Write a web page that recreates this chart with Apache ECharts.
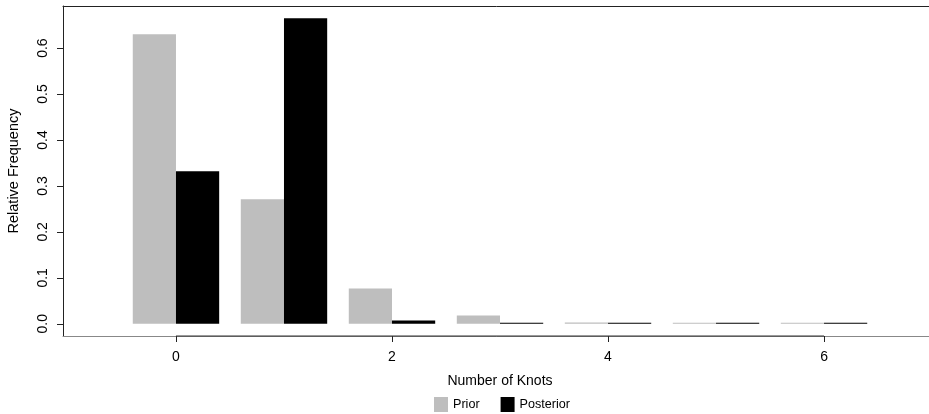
<!DOCTYPE html>
<html>
<head>
<meta charset="utf-8">
<script src="https://cdn.jsdelivr.net/npm/echarts@6/dist/echarts.min.js"></script>
<style>
html,body{margin:0;padding:0;background:#fff;}
#chart{width:929px;height:414px;}
</style>
</head>
<body>
<div id="chart"></div>
<script>
// Data
const knots = [0, 1, 2, 3, 4, 5, 6];
const prior = [0.630, 0.271, 0.077, 0.018, 0.003, 0.001, 0.001];
const posterior = [0.332, 0.665, 0.007, 0.001, 0.001, 0.001, 0.001];
const xTicks = [0, 2, 4, 6];
const yTicks = [0.0, 0.1, 0.2, 0.3, 0.4, 0.5, 0.6];

const FONT = '"Liberation Sans", Arial, Helvetica, sans-serif';
const GREY = '#bebebe';
const BAR_W = 0.4;
const Y_MIN = -0.0266, Y_MAX = 0.6916;
const X_MIN = -1.046, X_MAX = 7.046;

function barRenderer(side) {
  return function (params, api) {
    const k = api.value(0), v = api.value(1);
    const x0 = side < 0 ? k - BAR_W : k;
    const x1 = side < 0 ? k : k + BAR_W;
    const p0 = api.coord([x0, v]);
    const p1 = api.coord([x1, 0]);
    let h = p1[1] - p0[1];
    if (h < 1) h = 1;
    return {
      type: 'rect',
      shape: { x: p0[0], y: p1[1] - h, width: p1[0] - p0[0], height: h },
      style: { fill: api.visual('color') }
    };
  };
}

const chart = echarts.init(document.getElementById('chart'), null, { renderer: 'canvas' });
chart.setOption({
  animation: false,
  backgroundColor: '#fff',
  textStyle: { fontFamily: FONT },
  grid: {
    left: 63, top: 6, width: 874, height: 330,
    containLabel: false, outerBoundsMode: 'none', show: false
  },
  legend: {
    left: 434, top: 397, itemWidth: 14, itemHeight: 15, itemGap: 21,
    icon: 'rect', padding: 0,
    textStyle: { fontFamily: FONT, fontSize: 12.6, color: '#000' },
    data: ['Prior', 'Posterior']
  },
  xAxis: [{
    type: 'value', min: X_MIN, max: X_MAX, position: 'bottom',
    name: 'Number of Knots', nameLocation: 'middle', nameGap: 38,
    nameTextStyle: { fontFamily: FONT, fontSize: 14, color: '#000' },
    axisLine: { show: true, onZero: false, lineStyle: { color: '#888', width: 1 } },
    axisTick: { show: true, length: 6, lineStyle: { color: '#222' }, customValues: xTicks },
    axisLabel: { show: true, margin: 14, fontFamily: FONT, fontSize: 14, color: '#000',
      customValues: xTicks, formatter: v => String(v) },
    splitLine: { show: false }
  }, {
    type: 'value', min: X_MIN, max: X_MAX, position: 'top',
    axisLine: { show: true, onZero: false, lineStyle: { color: '#222', width: 1 } },
    axisTick: { show: false }, axisLabel: { show: false }, splitLine: { show: false }
  }],
  yAxis: {
    type: 'value', min: Y_MIN, max: Y_MAX,
    name: 'Relative Frequency', nameLocation: 'middle', nameGap: 42, nameRotate: 90,
    nameTextStyle: { fontFamily: FONT, fontSize: 14.5, color: '#000' },
    axisLine: { show: true, onZero: false, lineStyle: { color: '#222', width: 1 } },
    axisTick: { show: true, length: 6, lineStyle: { color: '#222' }, customValues: yTicks },
    axisLabel: { show: true, rotate: 90, margin: 13, fontFamily: FONT, fontSize: 14, color: '#000',
      customValues: yTicks, formatter: v => v.toFixed(1) },
    splitLine: { show: false }
  },
  series: [
    {
      name: 'Prior', type: 'custom', color: GREY,
      itemStyle: { color: GREY },
      renderItem: barRenderer(-1),
      encode: { x: 0, y: 1 },
      data: knots.map((k, i) => [k, prior[i]])
    },
    {
      name: 'Posterior', type: 'custom', color: '#000',
      itemStyle: { color: '#000' },
      renderItem: barRenderer(1),
      encode: { x: 0, y: 1 },
      data: knots.map((k, i) => [k, posterior[i]])
    },
    {
      name: 'axis', type: 'line', silent: true, symbol: 'none', clip: false,
      lineStyle: { color: '#333', width: 1 },
      data: [[xTicks[0], Y_MIN], [xTicks[xTicks.length - 1], Y_MIN]],
      z: 5
    }
  ]
});
</script>
</body>
</html>
